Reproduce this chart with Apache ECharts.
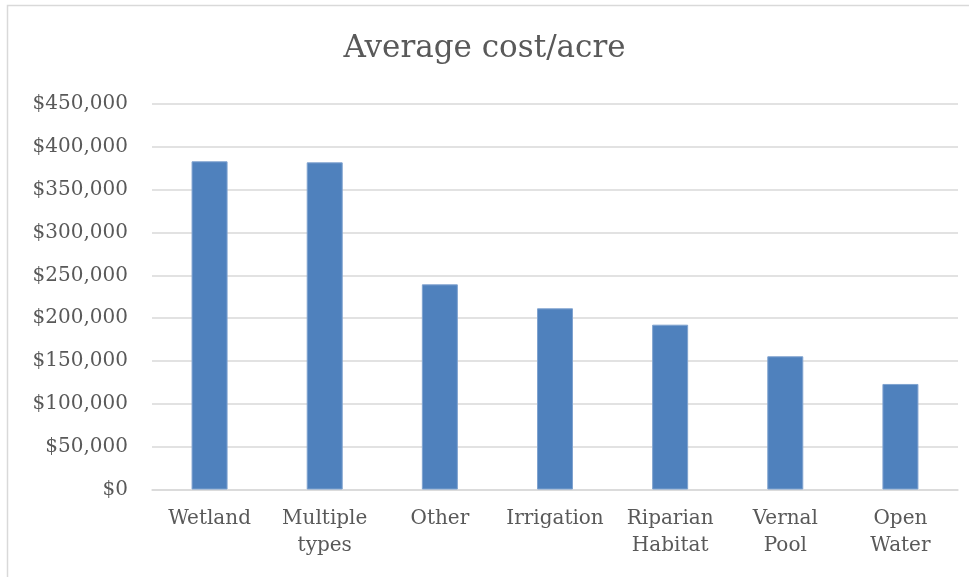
<!DOCTYPE html>
<html>
<head>
<meta charset="utf-8">
<script src="https://cdn.jsdelivr.net/npm/echarts@6/dist/echarts.min.js"></script>
<style>
  html, body { margin: 0; padding: 0; background: #ffffff; }
  #chart { width: 969px; height: 577px; }
</style>
</head>
<body>
<div id="chart"></div>
<script>
// Habitat project types and their average cost per acre (USD)
const categories = ['Wetland', 'Multiple\ntypes', 'Other', 'Irrigation', 'Riparian\nHabitat', 'Vernal\nPool', 'Open\nWater'];
const costPerAcre = [383100, 381900, 239500, 211500, 192400, 155500, 123200];

const yMin = 0;
const yMax = 450000;
const yStep = 50000;

const textColor = '#595959';
const lineColor = '#d9d9d9';
const serif = '"DejaVu Serif", "Liberation Serif", serif';

function dollars(v) {
  return '$' + Math.round(v).toString().replace(/\B(?=(\d{3})+(?!\d))/g, ',');
}

const chart = echarts.init(document.getElementById('chart'), null, { renderer: 'canvas' });

chart.setOption({
  backgroundColor: '#ffffff',
  animation: false,
  title: {
    text: 'Average cost/acre',
    left: 'center',
    top: 28,
    textStyle: {
      fontFamily: serif,
      fontSize: 31,
      fontWeight: 'normal',
      color: textColor
    }
  },
  graphic: [{
    type: 'rect',
    shape: { x: 7.5, y: 5.5, width: 1200, height: 1200 },
    style: { fill: 'none', stroke: lineColor, lineWidth: 1.5 },
    silent: true,
    z: -1
  }],
  grid: {
    left: 152,
    right: 11,
    top: 104,
    bottom: 87.5,
    containLabel: false
  },
  xAxis: {
    type: 'category',
    data: categories,
    axisLine: { show: true, lineStyle: { color: lineColor, width: 1.5 } },
    axisTick: { show: false },
    axisLabel: {
      interval: 0,
      margin: 16,
      fontFamily: serif,
      fontSize: 20,
      lineHeight: 27,
      color: textColor
    }
  },
  yAxis: {
    type: 'value',
    min: yMin,
    max: yMax,
    interval: yStep,
    axisLine: { show: false },
    axisTick: { show: false },
    splitLine: { lineStyle: { color: lineColor, width: 1.5 } },
    axisLabel: {
      margin: 24,
      fontFamily: serif,
      fontSize: 20,
      color: textColor,
      formatter: dollars
    }
  },
  series: [{
    type: 'bar',
    data: costPerAcre,
    barWidth: 36,
    itemStyle: {
      color: '#4f81bd',
      borderColor: '#7fa2cf',
      borderWidth: 1
    }
  }]
});
</script>
</body>
</html>
